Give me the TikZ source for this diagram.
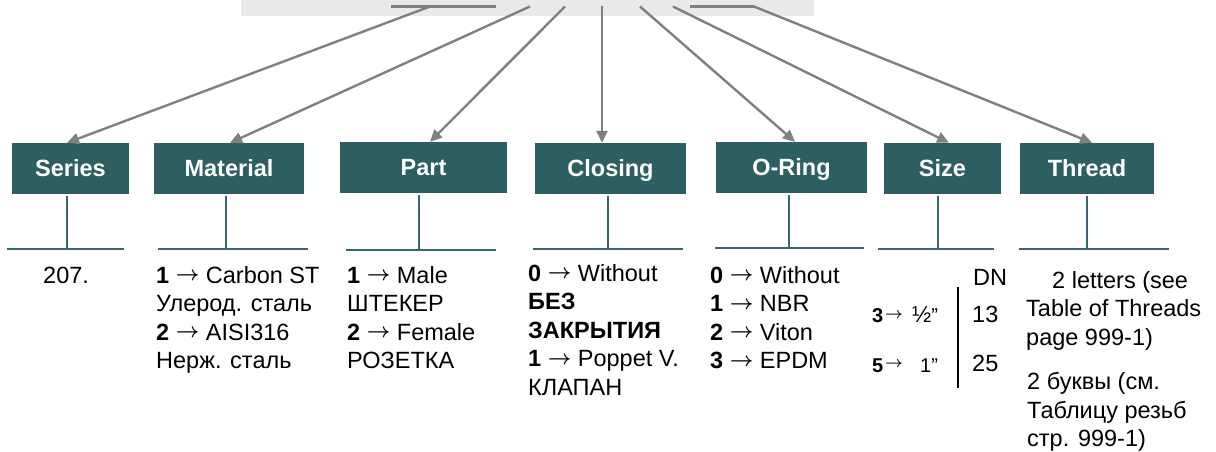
\documentclass[tikz,border=0pt]{standalone}
\usepackage{fontspec}
\usepackage{graphicx}
\setmainfont{Liberation Sans}
\usetikzlibrary{arrows.meta}
\definecolor{boxteal}{HTML}{2D5F62}
\definecolor{stemteal}{HTML}{36686C}
\definecolor{arrgray}{HTML}{808080}
\definecolor{topgray}{HTML}{E9E9E9}
\newcommand\colx[1]{\vtop{\halign{##\hfil\cr#1\crcr}}}
\newcommand\rarr{\raisebox{2.5pt}{\scalebox{2.05}{\fontsize{10}{12}\selectfont\boldmath$\rightarrow$}}}
\newcommand\sarr{\raisebox{4.5pt}{\scalebox{1.55}{\fontsize{10}{12}\selectfont\boldmath$\rightarrow$}}}
\tikzset{
  hdr/.style={fill=boxteal, text=white, font=\fontsize{23.5}{28}\selectfont\bfseries,
    minimum height=51pt, inner sep=0pt, text height=16.8pt, text depth=0pt},
  txt/.style={anchor=base west, inner sep=0pt, font=\fontsize{23.5}{28.5}\selectfont},
  midtxt/.style={anchor=base west, inner sep=0pt, font=\fontsize{20}{22}\selectfont},
  stemline/.style={draw=stemteal, line width=1.7pt},
  baseline/.style={draw=stemteal, line width=2pt},
  grayarrow/.style={draw=arrgray, line width=2.4pt, -{Triangle[length=12pt,width=11pt]}},
  grayline/.style={draw=arrgray, line width=2.4pt}
}
\begin{document}
\begin{tikzpicture}[x=1pt, y=-1pt]
\useasboundingbox (0,0) rectangle (1216,452);
% top code box
\node[fill=topgray, minimum width=573pt, minimum height=16pt, inner sep=0pt, anchor=north west] (code) at (241,0) {};
% header boxes
\node[hdr, minimum width=117pt] (series) at (70.5,168.5) {Series};
\node[hdr, minimum width=150pt] (material) at (229,168.5) {Material};
\node[hdr, minimum width=167pt] (part) at (423.5,167.5) {Part};
\node[hdr, minimum width=151pt] (closing) at (610.5,168.5) {Closing};
\node[hdr, minimum width=151pt] (oring) at (791.5,167.5) {O-Ring};
\node[hdr, minimum width=117pt] (size) at (942.5,168.5) {Size};
\node[hdr, minimum width=134pt] (thread) at (1087,168.5) {Thread};
% arrow origins
\coordinate (h1a) at (391,6.5); \coordinate (h1b) at (496,6.5);
\coordinate (h2a) at (690,6.5); \coordinate (h2b) at (754,6.5);
\coordinate (o1) at (430,6.5);
\coordinate (o2) at (530,6.5);
\coordinate (o3) at (565,6.5);
\coordinate (o4) at (602,6.5);
\coordinate (o5) at (640,6.5);
\coordinate (o6) at (673,6.5);
\draw[grayline] (h1a) -- (h1b);
\draw[grayline] (h2a) -- (h2b);
\draw[grayarrow] (o1) -- ([xshift=-3.5pt]series.north);
\draw[grayarrow] (o2) -- ([xshift=1pt]material.north);
\draw[grayarrow] (o3) -- ([xshift=6.5pt]part.north);
\draw[grayarrow] (o4) -- ([xshift=-8.5pt]closing.north);
\draw[grayarrow] (o5) -- ([xshift=3.5pt]oring.north);
\draw[grayarrow] (o6) -- ([xshift=6.5pt]size.north);
\draw[grayarrow] (h2b) -- ([xshift=5pt]thread.north);
% stems and base lines
\coordinate (s1) at (67,249);   \coordinate (l1a) at (7,249);   \coordinate (l1b) at (124,249);
\coordinate (s2) at (226,249);  \coordinate (l2a) at (158,249); \coordinate (l2b) at (308,249);
\coordinate (s3) at (419,250);  \coordinate (l3a) at (346,250); \coordinate (l3b) at (496,250);
\coordinate (s4) at (608,249);  \coordinate (l4a) at (533,249); \coordinate (l4b) at (683,249);
\coordinate (s5) at (789,248);  \coordinate (l5a) at (715,248); \coordinate (l5b) at (864,248);
\coordinate (s6) at (938,249);  \coordinate (l6a) at (878,249); \coordinate (l6b) at (994,249);
\coordinate (s7) at (1087,249); \coordinate (l7a) at (1019,249); \coordinate (l7b) at (1169,249);
\draw[stemline] ([yshift=-2pt]series.south -| s1) -- (s1);
\draw[stemline] ([yshift=-2pt]material.south -| s2) -- (s2);
\draw[stemline] ([yshift=-2pt]part.south -| s3) -- (s3);
\draw[stemline] ([yshift=-2pt]closing.south -| s4) -- (s4);
\draw[stemline] ([yshift=-2pt]oring.south -| s5) -- (s5);
\draw[stemline] ([yshift=-2pt]size.south -| s6) -- (s6);
\draw[stemline] ([yshift=-2pt]thread.south -| s7) -- (s7);
\draw[baseline] (l1a) -- (l1b);
\draw[baseline] (l2a) -- (l2b);
\draw[baseline] (l3a) -- (l3b);
\draw[baseline] (l4a) -- (l4b);
\draw[baseline] (l5a) -- (l5b);
\draw[baseline] (l6a) -- (l6b);
\draw[baseline] (l7a) -- (l7b);
% option texts
\node[txt] (t1) at (43,283) {207.};
\node[txt] (t2) at (156,283) {\colx{\textbf{1} \rarr{} Carbon ST\cr Улерод. сталь\cr \textbf{2} \rarr{} AISI316\cr Нерж. сталь}};
\node[txt] (t3) at (347,283) {\colx{\textbf{1} \rarr{} Male\cr ШТЕКЕР\cr \textbf{2} \rarr{} Female\cr РОЗЕТКА}};
\node[txt] (t4) at (528,281) {\colx{\textbf{0} \rarr{} Without\cr \textbf{БЕЗ}\cr \textbf{ЗАКРЫТИЯ}\cr \textbf{1} \rarr{} Poppet V.\cr КЛАПАН}};
\node[txt] (t5) at (710,283) {\colx{\textbf{0} \rarr{} Without\cr \textbf{1} \rarr{} NBR\cr \textbf{2} \rarr{} Viton\cr \textbf{3} \rarr{} EPDM}};
\node[txt] (t7a) at (1026,288) {\colx{\hspace*{26pt}2 letters (see\cr Table of Threads\cr page 999-1)}};
\node[txt] (t7b) at (1027,389.5) {\colx{2 буквы (см.\cr Таблицу резьб\cr стр. 999-1)}};
% size block
\node[txt] (dn) at (973,285) {DN};
\node[midtxt] (n3) at (872,322.5) {\textbf{3}};
\node[midtxt] (ar3) at (885,322.5) {\sarr};
\node[midtxt] (half) at (912,322.5) {{\fontsize{23}{24}\selectfont ½}”};
\node[txt] (d13) at (972,322.5) {13};
\node[midtxt] (n5) at (872,372) {\textbf{5}};
\node[midtxt] (ar5) at (885,372) {\sarr};
\node[midtxt] (one) at (920,372) {1”};
\node[txt] (d25) at (972,371.5) {25};
\coordinate (va) at (958,287); \coordinate (vb) at (958,388);
\draw[line width=2pt] (va) -- (vb);
\end{tikzpicture}
\end{document}
